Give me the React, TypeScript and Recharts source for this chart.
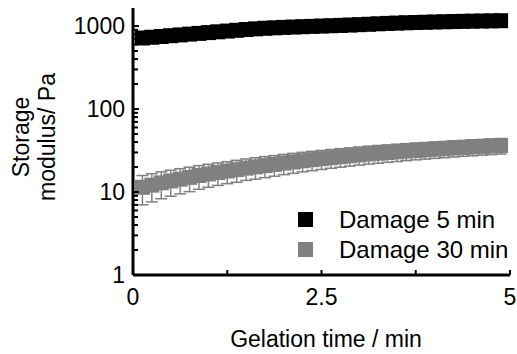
import React from 'react';
import { ScatterChart, Scatter, XAxis, YAxis, ErrorBar, Legend } from 'recharts';

const times = [
  0.125, 0.25, 0.375, 0.5, 0.625, 0.75, 0.875, 1.0, 1.125, 1.25,
  1.375, 1.5, 1.625, 1.75, 1.875, 2.0, 2.125, 2.25, 2.375, 2.5,
  2.625, 2.75, 2.875, 3.0, 3.125, 3.25, 3.375, 3.5, 3.625, 3.75,
  3.875, 4.0, 4.125, 4.25, 4.375, 4.5, 4.625, 4.75, 4.875,
];
const damage5 = [
  718, 733, 749, 765, 782, 799, 816, 834, 852, 870,
  889, 908, 925, 940, 952, 963, 973, 982, 991, 1000,
  1009, 1018, 1028, 1039, 1051, 1064, 1076, 1086, 1095, 1103,
  1111, 1119, 1126, 1133, 1139, 1145, 1150, 1155, 1160,
];
const damage5Err = [
  45, 46, 47, 48, 48, 49, 50, 51, 52, 53,
  54, 55, 56, 57, 57, 58, 58, 59, 59, 60,
  60, 61, 61, 62, 62, 63, 63, 64, 64, 65,
  65, 66, 66, 67, 67, 68, 68, 69, 69,
];
const damage30 = [
  11.4, 12.1, 12.9, 13.6, 14.3, 15.0, 15.8, 16.5, 17.2, 17.9,
  18.6, 19.4, 20.1, 20.8, 21.5, 22.3, 23.0, 23.8, 24.5, 25.2,
  25.9, 26.6, 27.3, 28.0, 28.7, 29.3, 29.9, 30.5, 31.1, 31.7,
  32.2, 32.8, 33.3, 33.9, 34.4, 34.9, 35.4, 35.9, 36.4,
];
const damage30Err = [
  4.4, 4.5, 4.6, 4.7, 4.8, 4.9, 5.0, 5.1, 5.2, 5.3,
  5.5, 5.6, 5.8, 5.9, 6.0, 6.1, 6.2, 6.3, 6.4, 6.5,
  6.6, 6.7, 6.8, 6.9, 7.0, 7.1, 7.1, 7.2, 7.2, 7.3,
  7.3, 7.4, 7.4, 7.5, 7.5, 7.6, 7.6, 7.7, 7.7,
];

const xTicks = [0, 1.25, 2.5, 3.75, 5];
const xTickLabels = ['0', '', '2.5', '', '5'];
const yMajorTicks = [1, 10, 100, 1000];
const yMinorTicks = [2, 3, 4, 5, 6, 7, 8, 9, 20, 30, 40, 50, 60, 70, 80, 90, 200, 300, 400, 500, 600, 700, 800, 900];
const seriesNames = ['Damage 5 min', 'Damage 30 min'];
const seriesColors = ['#000000', '#808080'];
const xTitle = 'Gelation time / min';
const yTitleLines = ['Storage', 'modulus/ Pa'];

const FONT = '"Liberation Sans", Arial, Helvetica, sans-serif';

const rows5 = times.map((t, i) => ({ t, v: damage5[i], e: damage5Err[i] }));
const rows30 = times.map((t, i) => ({ t, v: damage30[i], e: damage30Err[i] }));
const yTicks = [...yMajorTicks, ...yMinorTicks].sort((a, b) => a - b);

const Square = (props: any) => {
  const { cx, cy, fill } = props;
  if (cx == null || cy == null) return null;
  return <rect x={cx - 7.5} y={cy - 7.5} width={15} height={15} fill={fill} />;
};

const YTick = (props: any) => {
  const { x, y, payload } = props;
  const v = payload.value;
  const major = yMajorTicks.includes(v);
  return (
    <g>
      <line x1={x} x2={x + (major ? 6 : 5)} y1={y} y2={y} stroke="#000" strokeWidth={2} />
      {major && (
        <text x={x - 8} y={y + 8} textAnchor="end" fontSize={23} fontFamily={FONT} fill="#000">
          {String(v)}
        </text>
      )}
    </g>
  );
};

const XTick = (props: any) => {
  const { x, y, payload } = props;
  const idx = xTicks.indexOf(payload.value);
  const label = idx >= 0 ? xTickLabels[idx] : '';
  return (
    <g>
      {payload.value !== 0 && <line x1={x} x2={x} y1={y} y2={y - 5} stroke="#000" strokeWidth={2} />}
      {label && (
        <text x={x} y={y + 30} textAnchor="middle" fontSize={23} fontFamily={FONT} fill="#000">
          {label}
        </text>
      )}
    </g>
  );
};

const YTitle = () => (
  <g>
    <text x={29} y={137} transform="rotate(-90 29 137)" textAnchor="middle" fontSize={23} fontFamily={FONT} fill="#000">
      {yTitleLines[0]}
    </text>
    <text x={55} y={137} transform="rotate(-90 55 137)" textAnchor="middle" fontSize={23} fontFamily={FONT} fill="#000">
      {yTitleLines[1]}
    </text>
  </g>
);

const XTitle = () => (
  <text x={326} y={347} textAnchor="middle" fontSize={23} fontFamily={FONT} fill="#000">
    {xTitle}
  </text>
);

const LegendContent = () => (
  <div style={{ fontFamily: FONT }}>
    {seriesNames.map((n, i) => (
      <div key={n} style={{ display: 'flex', alignItems: 'center', height: 30 }}>
        <span style={{ display: 'inline-block', width: 15, height: 15, background: seriesColors[i], marginRight: 26 }} />
        <span style={{ fontSize: 24, color: '#000', lineHeight: '30px', whiteSpace: 'nowrap' }}>{n}</span>
      </div>
    ))}
  </div>
);

export default function App() {
  return (
    <div style={{ position: 'absolute', left: 0, top: 0, width: 517, height: 354, background: '#fff' }}>
      <ScatterChart width={517} height={354} margin={{ top: 8, right: 7, bottom: 39, left: 73 }}>
        <XAxis
          type="number"
          dataKey="t"
          domain={[0, 5]}
          ticks={xTicks}
          interval={0}
          allowDataOverflow
          height={40}
          tickSize={0}
          tickMargin={0}
          tick={<XTick />}
          axisLine={{ stroke: '#000', strokeWidth: 3 }}
          tickLine={false}
          label={{ content: () => <XTitle /> }}
        />
        <YAxis
          type="number"
          dataKey="v"
          scale="log"
          domain={[1, 1650]}
          ticks={yTicks}
          interval={0}
          allowDataOverflow
          width={60}
          tickSize={0}
          tickMargin={0}
          tick={<YTick />}
          axisLine={{ stroke: '#000', strokeWidth: 3 }}
          tickLine={false}
          label={{ content: () => <YTitle /> }}
        />
        <Legend
          layout="vertical"
          align="center"
          verticalAlign="middle"
          content={<LegendContent />}
          wrapperStyle={{ left: 298, top: 204.5, width: 'auto', margin: 0 }}
        />
        <Scatter name={seriesNames[0]} data={rows5} fill={seriesColors[0]} shape={<Square />} isAnimationActive={false}>
          <ErrorBar dataKey="e" direction="y" width={6} stroke={seriesColors[0]} strokeWidth={1.5} />
        </Scatter>
        <Scatter name={seriesNames[1]} data={rows30} fill={seriesColors[1]} shape={<Square />} isAnimationActive={false}>
          <ErrorBar dataKey="e" direction="y" width={6} stroke={seriesColors[1]} strokeWidth={1.5} />
        </Scatter>
      </ScatterChart>
    </div>
  );
}
